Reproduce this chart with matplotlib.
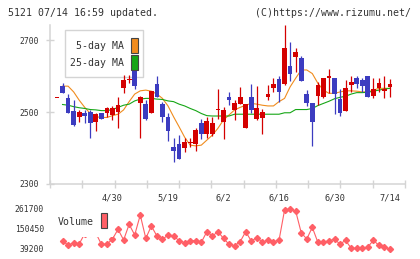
import numpy as np
import matplotlib
matplotlib.use("Agg")
import matplotlib.pyplot as plt
from matplotlib.patches import Rectangle

# daily OHLC (61 sessions, last = 7/14)
opens = [2538, 2572, 2538, 2503, 2487, 2496, 2499, 2471, 2496, 2498,
         2492, 2501, 2568, 2588, 2626, 2524, 2522, 2498, 2578, 2522,
         2485, 2404, 2410, 2399, 2415, 2411, 2469, 2438, 2438, 2506,
         2473, 2541, 2506, 2522, 2457, 2541, 2482, 2484, 2543, 2568,
         2592, 2578, 2628, 2654, 2649, 2550, 2524, 2544, 2541, 2596,
         2596, 2536, 2504, 2575, 2594, 2589, 2600, 2544, 2568, 2559,
         2570]
highs = [2538, 2580, 2550, 2533, 2506, 2506, 2507, 2498, 2498, 2513,
         2517, 2541, 2603, 2603, 2647, 2544, 2533, 2558, 2601, 2529,
         2496, 2427, 2436, 2427, 2429, 2455, 2481, 2487, 2487, 2563,
         2515, 2556, 2533, 2570, 2522, 2578, 2572, 2508, 2575, 2594,
         2600, 2742, 2694, 2677, 2656, 2561, 2524, 2584, 2596, 2621,
         2596, 2564, 2589, 2600, 2600, 2596, 2600, 2594, 2596, 2600,
         2591]
lows = [2538, 2554, 2498, 2461, 2473, 2470, 2427, 2448, 2480, 2487,
        2478, 2455, 2554, 2580, 2564, 2429, 2479, 2496, 2543, 2473,
        2419, 2362, 2369, 2390, 2404, 2393, 2424, 2427, 2433, 2481,
        2425, 2519, 2478, 2522, 2457, 2498, 2478, 2439, 2533, 2556,
        2529, 2575, 2587, 2612, 2587, 2518, 2406, 2519, 2538, 2554,
        2494, 2489, 2504, 2556, 2568, 2556, 2543, 2540, 2556, 2540,
        2543]
closes = [2538, 2554, 2498, 2464, 2499, 2489, 2469, 2494, 2482, 2510,
          2512, 2519, 2589, 2590, 2573, 2541, 2481, 2558, 2543, 2487,
          2447, 2393, 2369, 2416, 2416, 2450, 2438, 2475, 2469, 2507,
          2506, 2533, 2524, 2541, 2522, 2506, 2512, 2499, 2550, 2577,
          2556, 2677, 2607, 2666, 2587, 2524, 2473, 2575, 2594, 2600,
          2550, 2498, 2566, 2584, 2577, 2572, 2543, 2563, 2582, 2564,
          2577]

ma5 = [np.nan, 2572, 2572, 2556, 2533, 2513, 2496, 2487, 2485, 2485,
       2490, 2494, 2506, 2529, 2550, 2559, 2561, 2558, 2550, 2538,
       2517, 2487, 2459, 2430, 2408, 2406, 2408, 2422, 2436, 2455,
       2478, 2492, 2506, 2513, 2519, 2524, 2522, 2519, 2517, 2517,
       2529, 2538, 2570, 2594, 2617, 2617, 2607, 2580, 2561, 2552,
       2552, 2556, 2559, 2559, 2558, 2556, 2556, 2561, 2566, 2566,
       2566]
ma25 = [np.nan, 2521, 2519, 2515, 2512, 2510, 2507, 2506, 2504, 2504,
        2507, 2513, 2519, 2522, 2531, 2536, 2538, 2538, 2536, 2535,
        2531, 2529, 2522, 2517, 2510, 2504, 2496, 2490, 2489, 2489,
        2489, 2489, 2494, 2494, 2494, 2494, 2494, 2494, 2494, 2494,
        2494, 2498, 2498, 2507, 2507, 2507, 2510, 2518, 2524, 2530,
        2537, 2541, 2544, 2550, 2554, 2554, 2555, 2558, 2561, 2564,
        2566]

volume = [np.nan, 83700, 61400, 72600, 67000, 125000, 128000, 128000, 65200, 65200,
          94800, 148600, 89300, 176400, 117100, 228300, 98500, 167100, 111500, 93000,
          117000, 111500, 85600, 74400, 85600, 85600, 76300, 135600, 111500, 135600,
          98500, 65200, 57700, 80000, 135600, 83700, 102200, 78100, 87400, 80000,
          87400, 256000, 261700, 250600, 130000, 94800, 159700, 76300, 76300, 85600,
          93000, 67000, 87400, 43000, 42900, 42900, 50300, 87400, 59600, 48500,
          39200]

date_labels = ['4/30', '5/19', '6/2', '6/16', '6/30', '7/14']
date_idx = [10, 20, 30, 40, 50, 60]
price_ticks = [2300, 2500, 2700]
vol_ticks = [39200, 150450, 261700]

RED = '#d40000'
BLUE = '#3c3cc0'
ORANGE = '#f08c1e'
GREEN = '#16a616'
PINK = '#ff5f66'
AXC = '#d4d4d4'
TXT = '#333333'
MONO = 'DejaVu Sans Mono'

W, H = 420, 259
fig = plt.figure(figsize=(W / 100, H / 100), dpi=100)


def fx(px):
    return px / W


def fy(py):
    return 1 - py / H


x = np.arange(len(closes))
xlim = (-1.26, 62.7)

# ---- price panel
ax = fig.add_axes([fx(50), fy(184), fx(405) - fx(50), fy(25) - fy(184)])
ax.set_xlim(*xlim)
ax.set_ylim(2300, 2742)

ax.plot(x, ma5, color=ORANGE, lw=0.8, zorder=2)
ax.plot(x, ma25, color=GREEN, lw=0.8, zorder=2)

o = np.array(opens, float)
c = np.array(closes, float)
up = c >= o
cols = np.where(up, RED, BLUE)
ax.vlines(x, lows, highs, colors=cols, lw=0.9, zorder=3)
body = np.maximum(np.abs(c - o), 2.6)
ax.bar(x, body, bottom=np.minimum(o, c), width=0.85, color=cols, lw=0, zorder=4)

for s in ['top', 'right']:
    ax.spines[s].set_visible(False)
for s in ['left', 'bottom']:
    ax.spines[s].set_color(AXC)
    ax.spines[s].set_linewidth(1.1)
ax.set_yticks(price_ticks)
ax.set_yticklabels([str(t) for t in price_ticks])
ax.set_xticks(np.linspace(xlim[0], xlim[1], 12))
ax.set_xticklabels([])
ax.tick_params(axis='both', direction='inout', length=6, width=1.0, color=AXC)
ax.tick_params(axis='y', pad=5, labelsize=5.8, labelcolor=TXT)
for lab in ax.get_yticklabels():
    lab.set_family(MONO)
for i, lab in zip(date_idx, date_labels):
    ax.text(i, -13.7 / 159, lab, transform=ax.get_xaxis_transform(),
            ha='center', va='center', fontsize=6.2, family=MONO, color=TXT)

# legend box for moving averages: box under the candles, keys on top
ax.add_patch(Rectangle((fx(65), fy(77)), fx(143) - fx(65), fy(30) - fy(77),
                       transform=fig.transFigure, facecolor='white',
                       edgecolor=AXC, lw=1.0, zorder=2.5, clip_on=False))
for lab, col, ty, sy in [('5-day MA', ORANGE, 46, 52.7), ('25-day MA', GREEN, 63.3, 69.5)]:
    ax.text(fx(124.5), fy(ty), lab, transform=fig.transFigure, ha='right',
            va='center', fontsize=7.1, family=MONO, color=TXT, zorder=6)
    ax.add_patch(Rectangle((fx(131), fy(sy)), fx(6.5), 14.5 / H,
                           transform=fig.transFigure, facecolor=col,
                           edgecolor='#444444', lw=0.8, zorder=6, clip_on=False))

# ---- volume panel
vol_per_px = (261700 - 39200) / 40.0
axv = fig.add_axes([fx(50), fy(252), fx(405) - fx(50), fy(205) - fy(252)])
axv.set_xlim(*xlim)
axv.set_ylim(39200 - 3 * vol_per_px, 261700 + 4 * vol_per_px)
axv.plot(x, volume, color=PINK, lw=0.8, marker='D', ms=3.1, mec=PINK, mfc=PINK, zorder=2)
for s in axv.spines.values():
    s.set_visible(False)
axv.set_xticks([])
axv.set_yticks(vol_ticks)
axv.set_yticklabels([str(t) for t in vol_ticks])
axv.tick_params(axis='y', length=0, pad=4.3, labelsize=5.8, labelcolor=TXT)
for lab in axv.get_yticklabels():
    lab.set_family(MONO)

fig.patches.append(Rectangle((fx(55), fy(236.5)), fx(58), 28 / H,
                             transform=fig.transFigure, facecolor='white',
                             edgecolor='none', zorder=5))
fig.text(fx(58), fy(221.7), 'Volume', ha='left', va='center', fontsize=7.1,
         family=MONO, color=TXT, zorder=6)
fig.patches.append(Rectangle((fx(101), fy(228.3)), fx(6.5), 15.5 / H,
                             transform=fig.transFigure, facecolor=PINK,
                             edgecolor='#444444', lw=0.8, zorder=6))

# header
fig.text(fx(8), fy(12.7), '5121 07/14 16:59 updated.', ha='left', va='center',
         fontsize=7.1, family=MONO, color=TXT)
fig.text(fx(411), fy(12.7), '(C)https://www.rizumu.net/', ha='right', va='center',
         fontsize=7.1, family=MONO, color=TXT)

fig.savefig('out.png', dpi=100, facecolor='white')
